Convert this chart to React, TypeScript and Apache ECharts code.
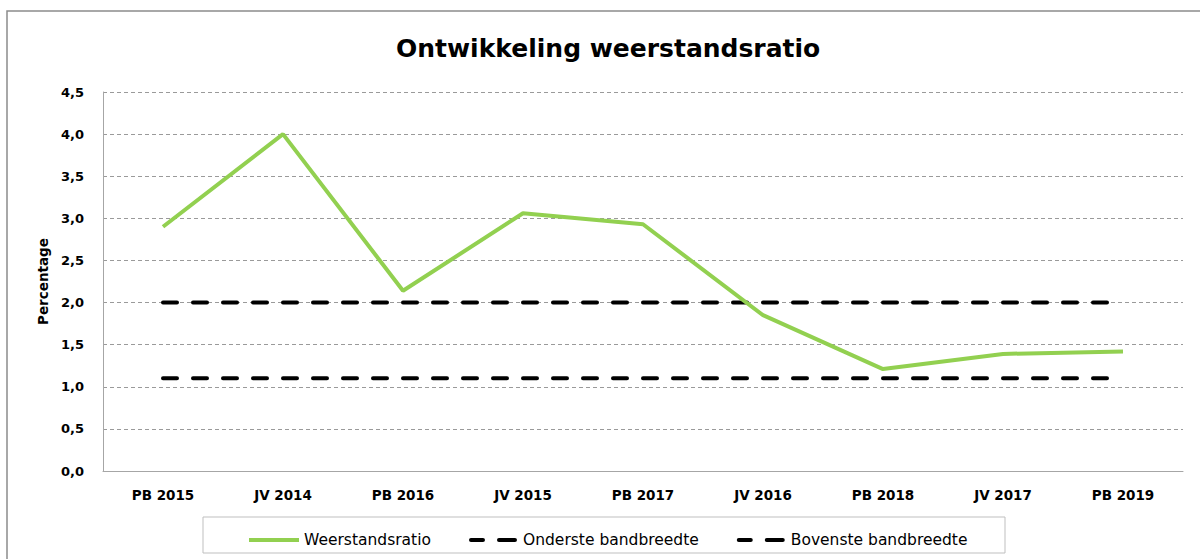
import React, { useEffect, useRef } from "react";
import * as echarts from "echarts";

const categories = ["PB 2015", "JV 2014", "PB 2016", "JV 2015", "PB 2017", "JV 2016", "PB 2018", "JV 2017", "PB 2019"];
const weerstandsratio = [2.9, 4.0, 2.14, 3.06, 2.93, 1.85, 1.21, 1.39, 1.42];
const onderste = [1.1, 1.1, 1.1, 1.1, 1.1, 1.1, 1.1, 1.1, 1.1];
const bovenste = [2.0, 2.0, 2.0, 2.0, 2.0, 2.0, 2.0, 2.0, 2.0];
const yTicks = ["0,0", "0,5", "1,0", "1,5", "2,0", "2,5", "3,0", "3,5", "4,0", "4,5"];

const FONT = "'DejaVu Sans', sans-serif";
const DASH_ICON =
  "path://M2,0h12a2,2 0 0 1 0,4h-12a2,2 0 0 1 0,-4z M30,0h16a2,2 0 0 1 0,4h-16a2,2 0 0 1 0,-4z";

export default function App() {
  const ref = useRef<HTMLDivElement>(null);
  useEffect(() => {
    document.body.style.margin = "0";
    const chart = echarts.init(ref.current!, null, { renderer: "svg" });
    chart.setOption({
      animation: false,
      backgroundColor: "#fff",
      textStyle: { fontFamily: FONT },
      title: {
        text: "Ontwikkeling weerstandsratio",
        left: 391,
        top: 31,
        textStyle: { fontFamily: FONT, fontSize: 25, fontWeight: "bold", color: "#000" },
      },
      graphic: [
        {
          type: "rect",
          shape: { x: 7, y: 11, width: 1300, height: 700 },
          style: { fill: "none", stroke: "#8c8c8c", lineWidth: 1.5 },
          silent: true,
        },
        {
          type: "rect",
          shape: { x: 203, y: 517, width: 802, height: 36 },
          style: { fill: "none", stroke: "#bfbfbf", lineWidth: 1 },
          silent: true,
        },
      ],
      legend: {
        left: 244,
        top: 527,
        itemWidth: 50,
        itemHeight: 4,
        itemGap: 38,
        textStyle: { fontFamily: FONT, fontSize: 15.5, color: "#000" },
        data: [
          { name: "Weerstandsratio", icon: "rect" },
          { name: "Onderste bandbreedte", icon: DASH_ICON },
          { name: "Bovenste bandbreedte", icon: DASH_ICON },
        ],
      },
      grid: { left: 103, right: 17, top: 92, bottom: 88 },
      xAxis: {
        type: "category",
        data: categories,
        boundaryGap: true,
        axisLine: { lineStyle: { color: "#a6a6a6", width: 1 } },
        axisTick: { show: false },
        axisLabel: { fontFamily: FONT, fontSize: 13.5, fontWeight: "bold", color: "#000", margin: 17 },
      },
      yAxis: {
        type: "value",
        min: 0,
        max: 4.5,
        interval: 0.5,
        name: "Percentage",
        nameLocation: "middle",
        nameGap: 52,
        nameTextStyle: { fontFamily: FONT, fontSize: 13.5, fontWeight: "bold", color: "#000" },
        axisLine: { show: true, lineStyle: { color: "#a6a6a6", width: 1 } },
        axisTick: { show: false },
        axisLabel: {
          fontFamily: FONT,
          fontSize: 13,
          fontWeight: "bold",
          color: "#000",
          margin: 19,
          formatter: (v: number) => yTicks[Math.round(v / 0.5)] ?? String(v),
        },
        splitLine: { show: true, lineStyle: { color: "#9a9a9a", type: [4, 3], width: 1 } },
      },
      series: [
        {
          name: "Onderste bandbreedte",
          type: "line",
          data: onderste,
          symbol: "none",
          lineStyle: { color: "#000", width: 4, type: [14, 16], cap: "round" },
          itemStyle: { color: "#000" },
          z: 2,
        },
        {
          name: "Bovenste bandbreedte",
          type: "line",
          data: bovenste,
          symbol: "none",
          lineStyle: { color: "#000", width: 4, type: [14, 16], cap: "round" },
          itemStyle: { color: "#000" },
          z: 2,
        },
        {
          name: "Weerstandsratio",
          type: "line",
          data: weerstandsratio,
          symbol: "none",
          lineStyle: { color: "#92d050", width: 4 },
          itemStyle: { color: "#92d050" },
          z: 3,
        },
      ],
    });
    return () => chart.dispose();
  }, []);
  return <div ref={ref} style={{ width: 1200, height: 559 }} />;
}
